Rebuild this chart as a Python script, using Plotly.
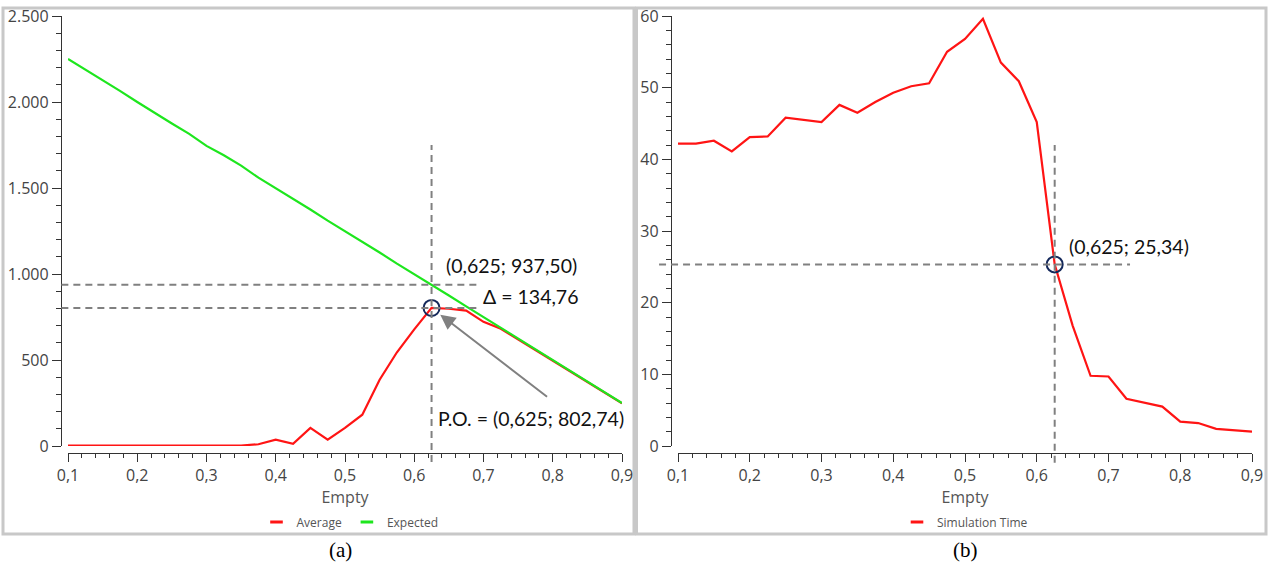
import plotly.graph_objects as go

# ---------------- data ----------------
empty = [0.1, 0.125, 0.15, 0.175, 0.2, 0.225, 0.25, 0.275, 0.3, 0.325, 0.35,
         0.375, 0.4, 0.425, 0.45, 0.475, 0.5, 0.525, 0.55, 0.575, 0.6, 0.625,
         0.65, 0.675, 0.7, 0.725, 0.75, 0.775, 0.8, 0.825, 0.85, 0.875, 0.9]

average = [2, 2, 2, 2, 2, 2, 2, 2, 2, 2, 3,
           10, 37, 13, 105, 37, 105, 182, 385, 545, 678, 802.74,
           798, 787, 722, 682, 620, 558, 498, 435, 372, 310, 248]

expected = [2250, 2190, 2125, 2065, 2000, 1935, 1875, 1815, 1745, 1690, 1630,
            1560, 1500, 1440, 1375, 1310, 1250, 1190, 1125, 1060, 1000, 937.5,
            875, 812, 750, 688, 625, 560, 500, 437, 375, 312, 250]

sim_time = [42.2, 42.2, 42.6, 41.1, 43.1, 43.2, 45.8, 45.5, 45.2, 47.6, 46.5,
            48.0, 49.3, 50.2, 50.6, 55.0, 56.8, 59.6, 53.5, 50.9, 45.2, 25.34,
            16.8, 9.8, 9.7, 6.6, 6.0, 5.5, 3.4, 3.2, 2.4, 2.2, 2.0]

po_x = 0.625
po_avg = 802.74
po_exp = 937.50
po_time = 25.34

label_expected = "(0,625; 937,50)"
label_delta = "Δ = 134,76"
label_po = "P.O. = (0,625; 802,74)"
label_time = "(0,625; 25,34)"

# ---------------- figure geometry ----------------
W, H = 1271, 566
def px(x):
    return x / W
def py(y):
    return 1 - y / H

RED = "#ff1414"
GREEN = "#1ee61e"
GRAY = "#808080"
NAVY = "#14285a"
AX = "#333333"
TICKFONT = dict(family="Open Sans", size=16, color="#444444")

fig = go.Figure()

# left panel traces
fig.add_trace(go.Scatter(x=empty, y=average, mode="lines", line=dict(color=RED, width=2.2),
                         showlegend=False, xaxis="x", yaxis="y", hoverinfo="skip"))
fig.add_trace(go.Scatter(x=empty, y=expected, mode="lines", line=dict(color=GREEN, width=2.2),
                         showlegend=False, xaxis="x", yaxis="y", hoverinfo="skip"))
fig.add_trace(go.Scatter(x=[po_x], y=[po_avg], mode="markers",
                         marker=dict(symbol="circle-open", size=16, color=NAVY, line=dict(width=2, color=NAVY)),
                         showlegend=False, xaxis="x", yaxis="y"))
# right panel traces
fig.add_trace(go.Scatter(x=empty, y=sim_time, mode="lines", line=dict(color=RED, width=2.2),
                         showlegend=False, xaxis="x2", yaxis="y2", hoverinfo="skip"))
fig.add_trace(go.Scatter(x=[po_x], y=[po_time], mode="markers",
                         marker=dict(symbol="circle-open", size=16, color=NAVY, line=dict(width=2, color=NAVY)),
                         showlegend=False, xaxis="x2", yaxis="y2"))

# legend entries (short dash symbols)
def leg(name, color, legend, xa, ya):
    fig.add_trace(go.Scatter(x=[None], y=[None], mode="markers", name=name,
                             marker=dict(symbol="line-ew", size=9, color=color,
                                         line=dict(width=3, color=color)),
                             legend=legend, xaxis=xa, yaxis=ya))
leg("Average", RED, "legend", "x", "y")
leg("Expected", GREEN, "legend", "x", "y")
leg("Simulation Time", RED, "legend2", "x2", "y2")

def xaxis_cfg(l, r, ypos):
    return dict(domain=[px(l), px(r)], range=[0.1, 0.9], anchor="free", position=ypos,
                automargin=False,
                tick0=0.1, dtick=0.1, tickformat=".1f", ticks="outside", ticklen=8,
                tickwidth=1.3, tickcolor=AX, showline=True, linecolor=AX, linewidth=1.3,
                minor=dict(tick0=0.1, dtick=0.02, ticks="outside", ticklen=4, tickcolor=AX, tickwidth=1.3),
                showgrid=False, zeroline=False, tickfont=TICKFONT,
                title=dict(text="Empty", font=dict(family="Open Sans", size=16, color="#555555"), standoff=4))

def yaxis_cfg(ymax, dt, mdt, xpos, fmt):
    return dict(domain=[py(446), py(16)], range=[0, ymax], anchor="free", position=xpos,
                automargin=False,
                dtick=dt, tick0=0, ticks="outside", ticklen=9, tickwidth=1.3, tickcolor=AX,
                showline=True, linecolor=AX, linewidth=1.3,
                minor=dict(dtick=mdt, ticks="outside", ticklen=5, tickcolor=AX, tickwidth=1.3),
                showgrid=False, zeroline=False, tickfont=TICKFONT, tickformat=fmt)

YMAX_L = 2500
YMAX_R = 60

fig.update_layout(
    width=W, height=H, margin=dict(l=0, r=0, t=0, b=0, autoexpand=False),
    paper_bgcolor="white", plot_bgcolor="white",
    separators=",.",
    xaxis=xaxis_cfg(68, 622, py(453)),
    yaxis=yaxis_cfg(YMAX_L, 500, 100, px(61), ",d"),
    xaxis2=xaxis_cfg(678, 1252, py(453)),
    yaxis2=yaxis_cfg(YMAX_R, 10, 2, px(671), "d"),
    legend=dict(orientation="h", x=px(350), y=py(522), xanchor="center", yanchor="middle",
                font=dict(family="Open Sans", size=12, color="#555555"), bgcolor="rgba(0,0,0,0)",
                itemwidth=30),
    legend2=dict(orientation="h", x=px(965), y=py(522), xanchor="center", yanchor="middle",
                 font=dict(family="Open Sans", size=12, color="#555555"), bgcolor="rgba(0,0,0,0)",
                 itemwidth=30),
)

dash = dict(color=GRAY, width=2, dash="7px,5px")
xr = (0.1, 0.9)
def xdom(v):
    return (v - xr[0]) / (xr[1] - xr[0])

shapes = [
    # panel frames
    dict(type="rect", xref="paper", yref="paper", x0=px(3), x1=px(634), y0=py(534), y1=py(8),
         line=dict(color="#c8c8c8", width=3), layer="below"),
    dict(type="rect", xref="paper", yref="paper", x0=px(636.5), x1=px(1266), y0=py(534), y1=py(8),
         line=dict(color="#c8c8c8", width=3), layer="below"),
    # left panel guides
    dict(type="line", xref="x", yref="y domain", x0=po_x, x1=po_x, y0=-0.037, y1=1750 / YMAX_L, line=dash),
    dict(type="line", xref="x domain", yref="y", x0=-0.012, x1=xdom(0.69), y0=po_exp, y1=po_exp, line=dash),
    dict(type="line", xref="x domain", yref="y", x0=-0.012, x1=xdom(0.69), y0=po_avg, y1=po_avg, line=dash),
    # right panel guides
    dict(type="line", xref="x2", yref="y2 domain", x0=po_x, x1=po_x, y0=-0.039, y1=42 / YMAX_R, line=dash),
    dict(type="line", xref="x2 domain", yref="y2", x0=-0.033, x1=xdom(0.73), y0=po_time, y1=po_time, line=dash),
]
fig.update_layout(shapes=shapes)

AFONT = dict(family="Lato", size=19.5, color="#111111")
annotations = [
    dict(xref="x", yref="y", x=po_x, y=po_exp, xshift=12, yshift=19, xanchor="left", yanchor="middle",
         text=label_expected, showarrow=False, font=AFONT),
    dict(xref="x", yref="y", x=po_x, y=(po_exp + po_avg) / 2, xshift=49, xanchor="left", yanchor="middle",
         text=label_delta, showarrow=False, font=AFONT),
    dict(xref="x", yref="y", x=po_x, y=0, xshift=4, yshift=28, xanchor="left", yanchor="middle",
         text=label_po, showarrow=False, font=AFONT),
    dict(xref="x", yref="y", x=po_x, y=po_avg, ax=117, ay=90, text="", showarrow=True,
         arrowhead=2, arrowsize=1.5, arrowwidth=2, arrowcolor=GRAY, standoff=11),
    dict(xref="x2", yref="y2", x=po_x, y=po_time, xshift=12, yshift=18, xanchor="left", yanchor="middle",
         text=label_time, showarrow=False, font=AFONT),
    dict(xref="paper", yref="paper", x=px(340), y=py(550), text="(a)", showarrow=False,
         font=dict(family="Liberation Serif", size=21, color="black"), xanchor="center", yanchor="middle"),
    dict(xref="paper", yref="paper", x=px(965), y=py(550), text="(b)", showarrow=False,
         font=dict(family="Liberation Serif", size=21, color="black"), xanchor="center", yanchor="middle"),
]
fig.update_layout(annotations=annotations)

fig.write_html("out.html", config={"displayModeBar": False},
               post_script="document.body.style.margin='0px';document.body.style.padding='0px';")
